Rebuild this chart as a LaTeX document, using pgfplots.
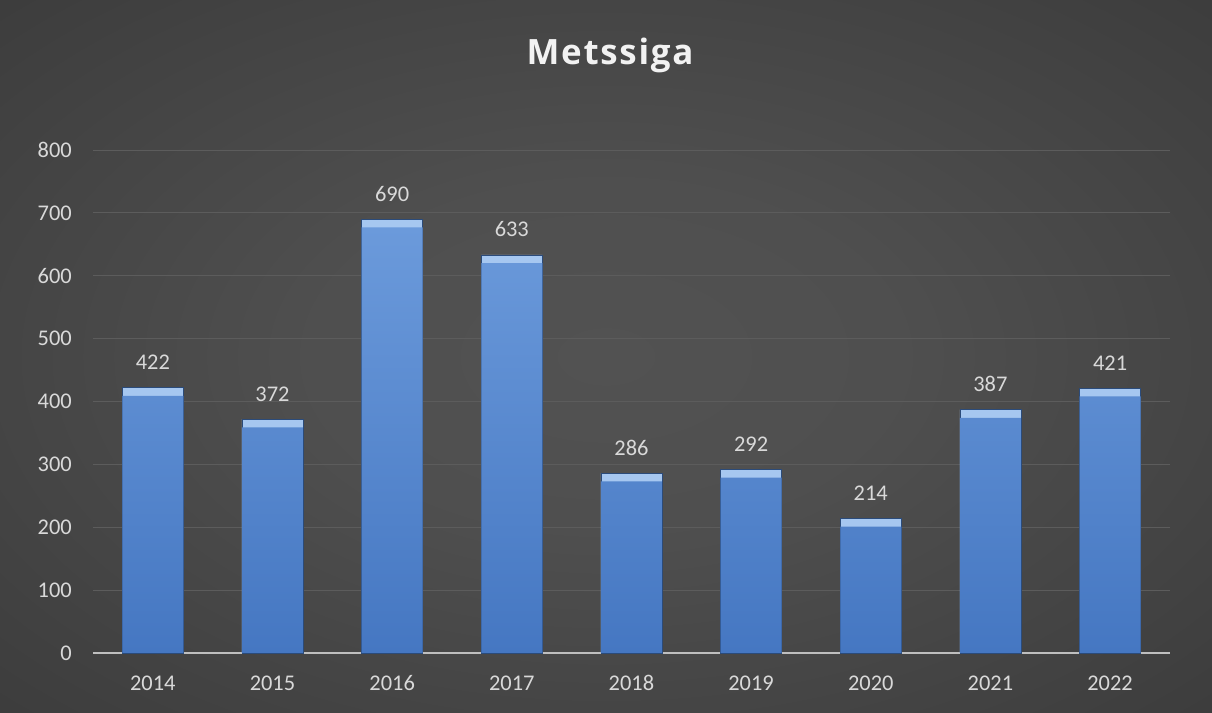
\documentclass[border=0pt]{standalone}
\usepackage{pgfplots}
\pgfplotsset{compat=1.18}
\usepackage{pgfplotstable}
\usepackage{fontspec}
\setmainfont{Carlito}
\newfontfamily\titlefont[LetterSpace=5]{Open Sans}
\definecolor{bgin}{HTML}{525252}
\definecolor{bgout}{HTML}{202020}
\definecolor{gridc}{HTML}{5C5C5C}
\definecolor{labc}{HTML}{D9D9D9}
\definecolor{bartop}{HTML}{6B9ADB}
\definecolor{barbot}{HTML}{4577C2}
\definecolor{bevel}{HTML}{A6C7F0}
\definecolor{baredge}{HTML}{2B4B7A}
\pgfdeclareradialshading{bgshade}{\pgfpoint{0bp}{0bp}}{color(0bp)=(bgin); color(12bp)=(bgin!94!bgout); color(72bp)=(bgout)}
\pgfplotstableread{
x v
0 422
1 372
2 690
3 633
4 286
5 292
6 214
7 387
8 421
}\datatable
\begin{document}
\begin{tikzpicture}
\shade[shading=bgshade] (0bp,0bp) rectangle (1212bp,713bp);
\node[anchor=base, font=\titlefont\bfseries\fontsize{35}{35}\selectfont, text=white!95!black] at (610bp,648bp) {Metssiga};
\begin{axis}[
  at={(93bp,60bp)}, anchor=south west,
  scale only axis, width=1077bp, height=503bp,
  xmin=-0.5, xmax=8.5, ymin=0, ymax=800,
  ytick={0,100,...,800},
  xtick=data,
  xticklabels={2014,2015,2016,2017,2018,2019,2020,2021,2022},
  ymajorgrids, grid style={draw=gridc, line width=0.8bp},
  axis x line*=bottom, axis y line*=left,
  y axis line style={draw=none},
  x axis line style={draw=white!75!black, line width=1.6bp, -},
  major tick length=0pt, tick style={draw=none},
  /pgf/number format/assume math mode=true,
  ticklabel style={font=\fontsize{22.5}{22.5}\selectfont, text=labc, inner sep=0pt},
  yticklabel style={anchor=east, xshift=-21bp},
  xticklabel style={anchor=base, yshift=-38bp},
  ybar, bar width=61bp, bar shift=0pt,
  clip=false,
]
\addplot[fill=bevel, draw=baredge, line width=0.6bp,
  nodes near coords,
  every node near coord/.style={font=\fontsize{22.5}{22.5}\selectfont, text=labc, anchor=base, inner sep=0pt, yshift=18bp}]
  table[x=x, y=v] {\datatable};
\addplot[draw=none, top color=bartop, bottom color=barbot]
  table[x=x, y expr=\thisrow{v}-13] {\datatable};
\end{axis}
\pgfresetboundingbox
\useasboundingbox (0bp,0bp) rectangle (1212bp,713bp);
\end{tikzpicture}
\end{document}
